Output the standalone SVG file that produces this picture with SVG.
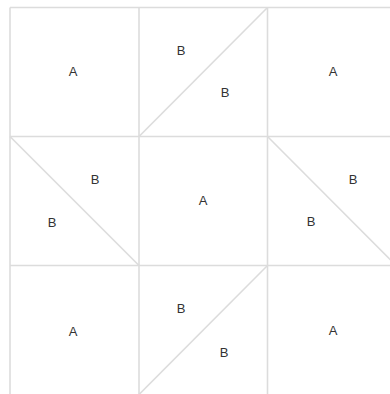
<svg xmlns="http://www.w3.org/2000/svg" width="390" height="394" viewBox="0 0 390 394">
<style>
.ln{stroke:#dcdcdc;stroke-width:1.6;fill:none}
.t{font-family:"Liberation Sans",Arial,sans-serif;font-size:13px;fill:#333;text-anchor:middle;dominant-baseline:central}
</style>
<rect width="390" height="394" fill="#fff"/>
<g id="grid">
<line class="ln" x1="10" y1="7.5" x2="395" y2="7.5"/>
<line class="ln" x1="10" y1="136.5" x2="395" y2="136.5"/>
<line class="ln" x1="10" y1="265.5" x2="395" y2="265.5"/>
<line class="ln" x1="10" y1="7.5" x2="10" y2="394"/>
<line class="ln" x1="139" y1="7.5" x2="139" y2="394"/>
<line class="ln" x1="267.5" y1="7.5" x2="267.5" y2="394"/>
</g>
<g id="connectors">
<line class="ln" x1="139" y1="136.5" x2="267.5" y2="7.5"/>
<line class="ln" x1="10" y1="136.5" x2="139" y2="265.5"/>
<line class="ln" x1="267.5" y1="136.5" x2="396" y2="265.5"/>
<line class="ln" x1="139" y1="394.5" x2="267.5" y2="265.5"/>
</g>
<g id="n1"><text class="t" x="73" y="71">A</text></g>
<g id="n2"><text class="t" x="181" y="50">B</text><text class="t" x="225" y="92">B</text></g>
<g id="n3"><text class="t" x="333" y="71">A</text></g>
<g id="n4"><text class="t" x="95" y="179">B</text><text class="t" x="52" y="222">B</text></g>
<g id="n5"><text class="t" x="203" y="200">A</text></g>
<g id="n6"><text class="t" x="353" y="179">B</text><text class="t" x="311" y="221">B</text></g>
<g id="n7"><text class="t" x="73" y="331">A</text></g>
<g id="n8"><text class="t" x="181" y="308">B</text><text class="t" x="224" y="352">B</text></g>
<g id="n9"><text class="t" x="333" y="330">A</text></g>
</svg>
